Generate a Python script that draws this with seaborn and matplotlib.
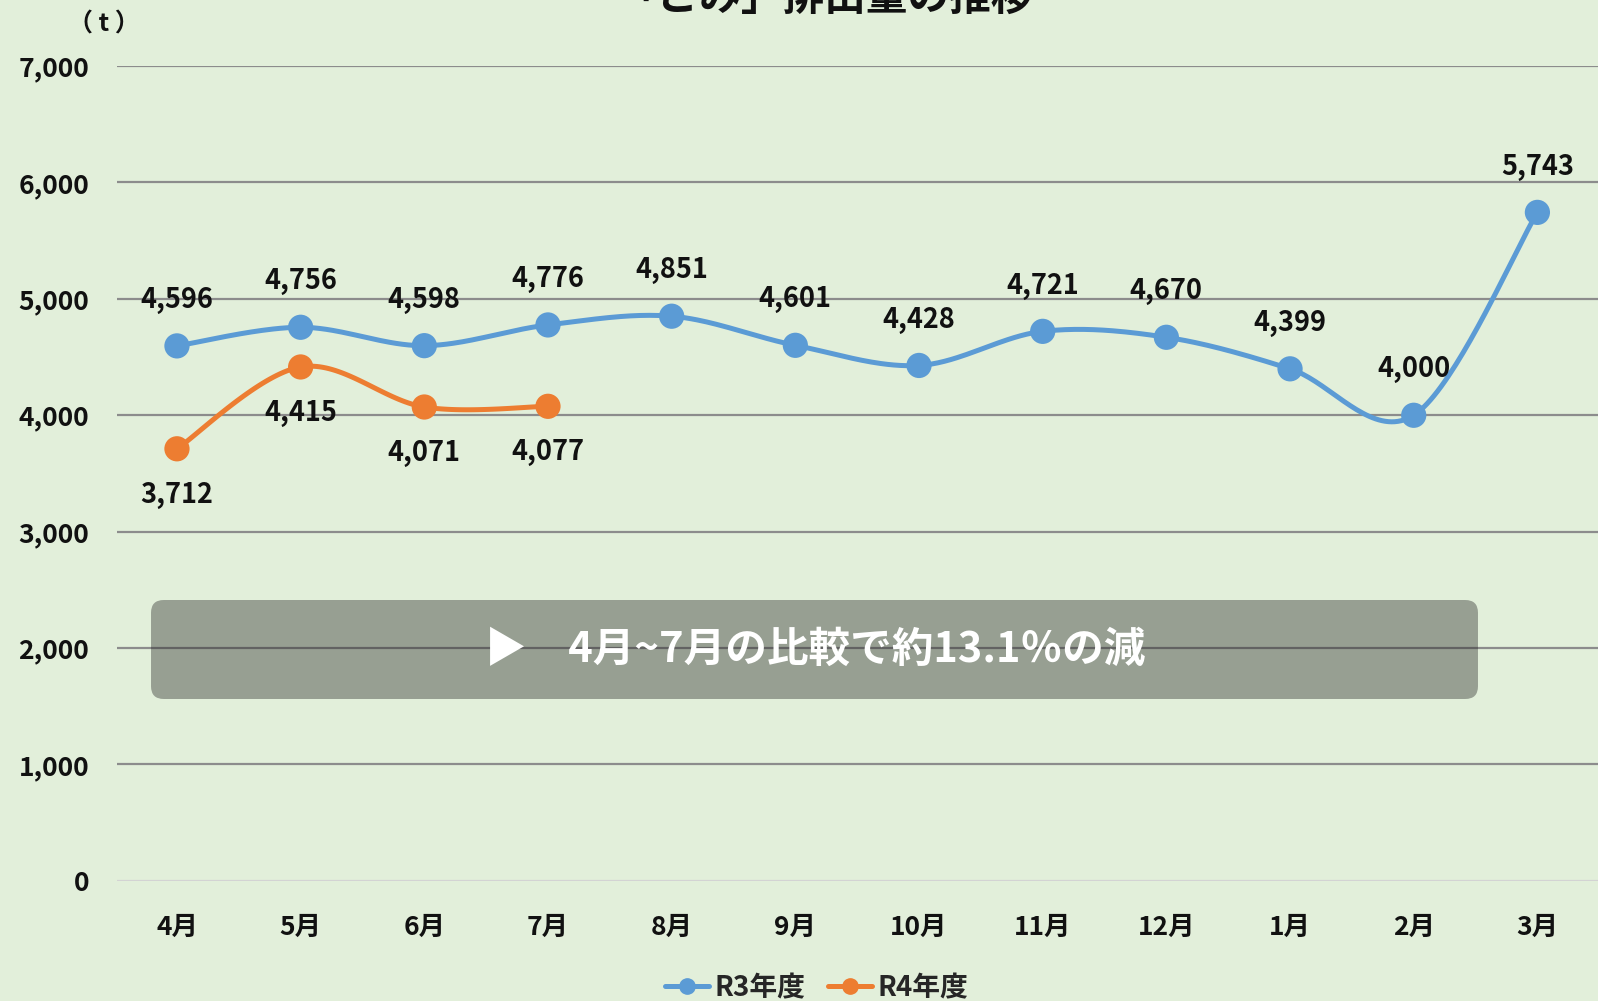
import numpy as np
import pandas as pd
import seaborn as sns
import matplotlib.pyplot as plt
from matplotlib.lines import Line2D
from matplotlib.patches import FancyBboxPatch

# データ
months = ["4月", "5月", "6月", "7月", "8月", "9月", "10月", "11月", "12月", "1月", "2月", "3月"]
r3_values = [4596, 4756, 4598, 4776, 4851, 4601, 4428, 4721, 4670, 4399, 4000, 5743]
r4_values = [3712, 4415, 4071, 4077]

BLUE = "#5B9BD5"
ORANGE = "#ED7D31"
BG = "#E2EFDA"


def smooth(ys, n=40):
    # Excel風のスムージング線 (Catmull-Rom -> Bezier)
    pts = np.column_stack([np.arange(len(ys)), np.asarray(ys, dtype=float)])
    ext = np.vstack([pts[0], pts, pts[-1]])
    out = []
    t = np.linspace(0, 1, n)[:, None]
    for i in range(len(pts) - 1):
        p0, p3 = ext[i + 1], ext[i + 2]
        c1 = p0 + (ext[i + 2] - ext[i]) / 6
        c2 = p3 - (ext[i + 3] - ext[i + 1]) / 6
        seg = ((1 - t) ** 3) * p0 + 3 * ((1 - t) ** 2) * t * c1 + 3 * (1 - t) * t ** 2 * c2 + t ** 3 * p3
        out.append(seg if i == 0 else seg[1:])
    arr = np.vstack(out)
    return pd.DataFrame({"x": arr[:, 0], "y": arr[:, 1]})


sns.set_theme(style="white")
plt.rcParams["font.family"] = ["Noto Sans CJK JP", "DejaVu Sans"]
plt.rcParams["font.weight"] = "bold"

fig = plt.figure(figsize=(15.98, 10.01), dpi=100)
fig.patch.set_facecolor(BG)
ax = fig.add_axes([0.0732, 0.12, 0.9268, 0.814])
ax.set_facecolor(BG)

# グリッド線
for v in range(1000, 8000, 1000):
    ax.axhline(v, color="#8c8c8c", lw=1.6, zorder=1)
ax.axhline(0, color="#d3d3d3", lw=1.6, zorder=1)

df3 = pd.DataFrame({"x": range(len(r3_values)), "y": r3_values})
df4 = pd.DataFrame({"x": range(len(r4_values)), "y": r4_values})

sns.lineplot(data=smooth(r3_values), x="x", y="y", sort=False, estimator=None,
             color=BLUE, lw=3.6, ax=ax, zorder=3)
sns.lineplot(data=smooth(r4_values), x="x", y="y", sort=False, estimator=None,
             color=ORANGE, lw=3.6, ax=ax, zorder=3)
sns.scatterplot(data=df3, x="x", y="y", color=BLUE, s=330, edgecolor="none", ax=ax, zorder=4)
sns.scatterplot(data=df4, x="x", y="y", color=ORANGE, s=330, edgecolor="none", ax=ax, zorder=4)

# データラベル
for i, v in enumerate(r3_values):
    ax.annotate(f"{v:,}", (i, v), xytext=(0, 33), textcoords="offset points",
                ha="center", va="center", fontsize=19.5, fontweight="bold", color="#111111", zorder=5)
for i, v in enumerate(r4_values):
    ax.annotate(f"{v:,}", (i, v), xytext=(0, -33), textcoords="offset points",
                ha="center", va="center", fontsize=19.5, fontweight="bold", color="#111111", zorder=5)

ax.set_xlim(-0.485, 11.49)
ax.set_ylim(0, 7000)
ax.set_xticks(range(len(months)))
ax.set_xticklabels(months)
ax.set_yticks(range(0, 8000, 1000))
ax.set_yticklabels([f"{v:,}" for v in range(0, 8000, 1000)])
ax.tick_params(axis="y", length=0, pad=20, labelsize=19, labelcolor="#111111")
ax.tick_params(axis="x", length=0, pad=24, labelsize=19, labelcolor="#111111")
for lab in ax.get_xticklabels() + ax.get_yticklabels():
    lab.set_fontweight("bold")
ax.set_xlabel("")
ax.set_ylabel("")
for s in ax.spines.values():
    s.set_visible(False)

# タイトル・単位
fig.text(0.516, 1.002, "「ごみ」排出量の推移", ha="center", va="center",
         fontsize=30, fontweight="bold", color="#111111")
fig.text(0.065, 0.976, "（ t ）", ha="center", va="center", fontsize=18,
         fontweight="bold", color="#111111")

# コメント枠
box = FancyBboxPatch((0.0945, 0.3017), 0.8304, 0.0989,
                     boxstyle="round,pad=0,rounding_size=0.008",
                     mutation_aspect=1598 / 1001, transform=fig.transFigure,
                     facecolor="#202020", alpha=0.385, edgecolor="none", zorder=6)
fig.patches.append(box)
fig.text(0.51, 0.3511, "▶　4月~7月の比較で約13.1％の減", ha="center", va="center",
         fontsize=30, fontweight="bold", color="white", zorder=7)

# 凡例
handles = [Line2D([0], [0], color=BLUE, lw=3.6, marker="o", markersize=11),
           Line2D([0], [0], color=ORANGE, lw=3.6, marker="o", markersize=11)]
fig.legend(handles, ["R3年度", "R4年度"], loc="center", bbox_to_anchor=(0.511, 0.013),
           ncol=2, frameon=False, handlelength=1.6, handletextpad=0.2,
           columnspacing=0.8, prop={"weight": "bold", "size": 20})

fig.savefig("out.png", dpi=100, facecolor=BG)
